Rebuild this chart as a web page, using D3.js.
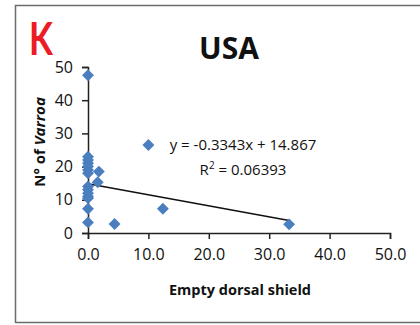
<!DOCTYPE html>
<html>
<head>
<meta charset="utf-8">
<script src="https://cdn.jsdelivr.net/npm/d3@7"></script>
<style>
  html, body { margin: 0; padding: 0; background: #fff; }
  svg { display: block; }
  text { font-family: "Open Sans", Lato, sans-serif; fill: #111; }
</style>
</head>
<body>
<svg id="chart" width="420" height="325"></svg>
<script>
// Empty dorsal shield vs. number of Varroa mites (USA samples)
const emptyShield = [0, 0, 0, 0, 0, 0, 0, 0, 0, 0, 0, 0, 0, 0, 1.8, 1.6, 4.4, 12.4, 33.3];
const varroaCount = [47.5, 23, 22, 21, 20, 19, 18, 14, 13, 12, 11, 10.5, 7.3, 3.2, 18.5, 15.3, 2.7, 7.3, 2.6];
const xTicks = [0, 10, 20, 30, 40, 50];
const yTicks = [0, 10, 20, 30, 40, 50];
const slope = -0.3343;
const intercept = 14.867;
const rSquared = 0.06393;
const legendPoint = [10, 26.5];

const svg = d3.select("#chart");
const markerColor = "#4a7ebf";
const fontStack = "'Open Sans', Lato, sans-serif";

const x = d3.scaleLinear().domain([0, 50]).range([88, 390]);
const y = d3.scaleLinear().domain([0, 50]).range([233, 67]);

// outer frame (left, top, bottom edges)
svg.append("path")
  .attr("d", "M15.5,323 L15.5,5.5 L420,5.5 M15.5,322.5 L420,322.5")
  .attr("fill", "none").attr("stroke", "#6b6b6b").attr("stroke-width", 1.5);

// panel letter and title
svg.append("text")
  .attr("transform", "translate(29,55) scale(0.76,1)")
  .style("font-size", "46px").style("fill", "#ec1c24").style("font-weight", "700")
  .style("font-family", "Lato, sans-serif")
  .text("K");
svg.append("text").attr("x", 229).attr("y", 59).attr("text-anchor", "middle")
  .style("font-size", "30px").style("font-weight", "700")
  .text("USA");

// axes
const xAxis = d3.axisBottom(x).tickValues(xTicks).tickFormat(d3.format(".1f")).tickSize(6).tickSizeOuter(6);
const yAxis = d3.axisLeft(y).tickValues(yTicks).tickFormat(d3.format("d")).tickSize(6).tickSizeOuter(6);

const gx = svg.append("g").attr("transform", `translate(0,${y(0)})`).call(xAxis);
const gy = svg.append("g").attr("transform", `translate(${x(0)},0)`).call(yAxis);

[gx, gy].forEach(g => {
  g.select(".domain").attr("stroke", "#222").attr("stroke-width", 1.5);
  g.selectAll(".tick line").attr("stroke", "#222").attr("stroke-width", 1.5);
  g.selectAll(".tick text").style("font-size", "16px").style("font-family", fontStack).attr("fill", "#111");
});
gx.selectAll(".tick text").attr("dy", "1.15em");
gy.selectAll(".tick text").attr("x", -15);

// axis titles
svg.append("text").attr("x", 240).attr("y", 295).attr("text-anchor", "middle")
  .style("font-size", "14.5px").style("font-weight", "700")
  .text("Empty dorsal shield");

const yTitle = svg.append("text")
  .attr("transform", "translate(45,142) rotate(-90)")
  .attr("text-anchor", "middle")
  .style("font-size", "15px").style("font-weight", "700");
yTitle.append("tspan").text("N° of ");
yTitle.append("tspan").style("font-style", "italic").text("Varroa");

// linear trend line over the observed range
const xMax = d3.max(emptyShield);
svg.append("line")
  .attr("x1", x(0)).attr("y1", y(intercept))
  .attr("x2", x(xMax)).attr("y2", y(slope * xMax + intercept))
  .attr("stroke", "#111").attr("stroke-width", 1.5);

// diamond markers
const diamond = d3.symbol().type(d3.symbolDiamond2).size(90);
svg.append("g").selectAll("path")
  .data(emptyShield.map((v, i) => [v, varroaCount[i]]))
  .join("path")
  .attr("d", diamond)
  .attr("transform", d => `translate(${x(d[0])},${y(d[1])})`)
  .attr("fill", markerColor);

// legend marker and regression annotation
svg.append("path").attr("d", diamond)
  .attr("transform", `translate(${x(legendPoint[0])},${y(legendPoint[1])})`)
  .attr("fill", markerColor);

svg.append("text").attr("x", 243).attr("y", 150).attr("text-anchor", "middle")
  .style("font-size", "15px")
  .text(`y = ${slope}x + ${intercept}`);
const r2 = svg.append("text").attr("x", 243).attr("y", 175).attr("text-anchor", "middle")
  .style("font-size", "15px");
r2.append("tspan").text("R");
r2.append("tspan").attr("dy", -6).style("font-size", "10px").text("2");
r2.append("tspan").attr("dy", 6).text(` = ${rSquared}`);
</script>
</body>
</html>
